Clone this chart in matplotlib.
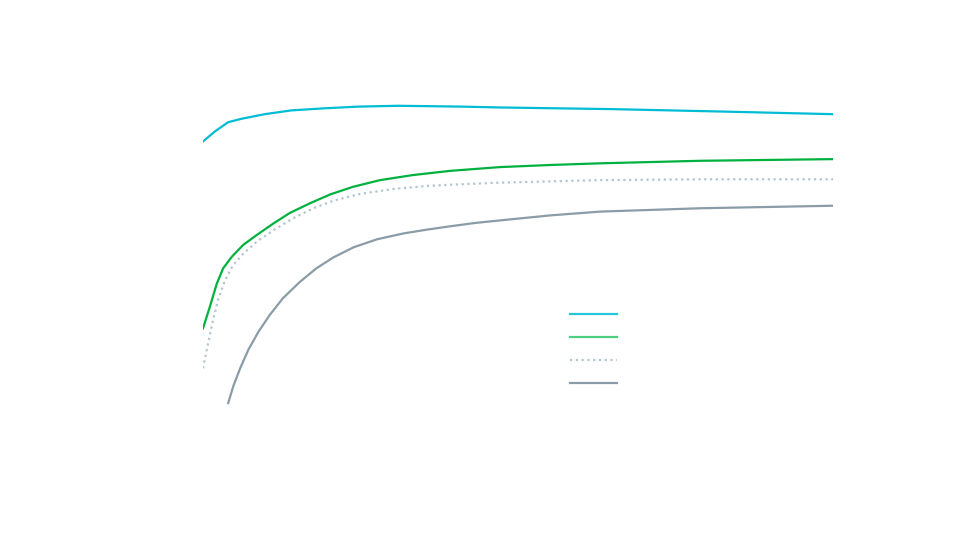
import matplotlib
matplotlib.use("Agg")
import matplotlib.pyplot as plt
from matplotlib.lines import Line2D

# values (x: 0-100, y: 0-100)
cyan_x = [0, 1.9, 4.0, 6.1, 9.8, 14.0, 19.3, 24.6, 31.0, 41.1, 47.1, 65.1, 83.2, 100]
cyan_y = [80.6, 83.0, 85.2, 86.0, 87.1, 88.0, 88.5, 88.9, 89.1, 88.9, 88.7, 88.3, 87.7, 87.1]

green_x = [0, 1.1, 2.2, 3.2, 4.6, 6.4, 8.5, 11.2, 13.8, 17.0, 20.2, 23.8, 28.1,
           33.3, 39.2, 47.1, 55.1, 63.0, 78.9, 100]
green_y = [36.1, 41.3, 46.8, 50.4, 53.2, 56.0, 58.3, 61.1, 63.6, 65.9, 68.0, 69.8, 71.4,
           72.6, 73.6, 74.5, 75.0, 75.4, 76.0, 76.4]

dot_x = [0, 0.8, 1.6, 2.4, 3.5, 4.8, 6.4, 8.5, 11.2, 14.3, 17.5, 20.7, 24.9, 30.2,
         35.5, 39.2, 47.1, 55.1, 63.0, 78.9, 100]
dot_y = [26.6, 32.5, 38.1, 42.9, 47.6, 51.2, 53.9, 56.7, 59.5, 62.3, 64.7, 66.5, 68.1, 69.3,
         70.0, 70.3, 70.8, 71.1, 71.4, 71.6, 71.6]

gray_x = [4.0, 4.8, 5.9, 7.2, 8.8, 10.6, 12.7, 15.4, 18.0, 20.7, 23.9, 27.6, 31.8,
          35.5, 39.2, 43.2, 47.1, 55.1, 63.0, 78.9, 100]
gray_y = [18.3, 22.3, 26.6, 31.0, 35.3, 39.3, 43.3, 47.2, 50.4, 53.0, 55.4, 57.3, 58.7,
          59.6, 60.4, 61.2, 61.8, 63.0, 63.9, 64.7, 65.3]

colors = ["#00bcd4", "#00b140", "#b3c5ce", "#8a9ca7"]
legend_colors = ["#26c6da", "#4cd080", "#b3c5ce", "#8a9ca7"]

fig = plt.figure(figsize=(9.6, 5.4), dpi=100)
ax = fig.add_axes([203 / 960, 60 / 540, 630 / 960, 420 / 540])

ax.plot(cyan_x, cyan_y, color=colors[0], lw=1.6)
ax.plot(green_x, green_y, color=colors[1], lw=1.6)
ax.plot(dot_x, dot_y, color=colors[2], lw=1.6, linestyle=(0, (1, 1.6)))
ax.plot(gray_x, gray_y, color=colors[3], lw=1.6)

ax.set_xlim(0, 100)
ax.set_ylim(0, 100)
ax.axis("off")

handles = [
    Line2D([], [], color=legend_colors[0], lw=1.6),
    Line2D([], [], color=legend_colors[1], lw=1.6),
    Line2D([], [], color=legend_colors[2], lw=1.6, linestyle=(0, (1, 1.6))),
    Line2D([], [], color=legend_colors[3], lw=1.6),
]
fig.legend(handles, ["", "", "", ""], loc="upper left",
           bbox_to_anchor=(564 / 960, 1 - 302 / 540), frameon=False,
           borderaxespad=0, handlelength=3.45, labelspacing=0.65, fontsize=10)

fig.savefig("out.png", dpi=100)
